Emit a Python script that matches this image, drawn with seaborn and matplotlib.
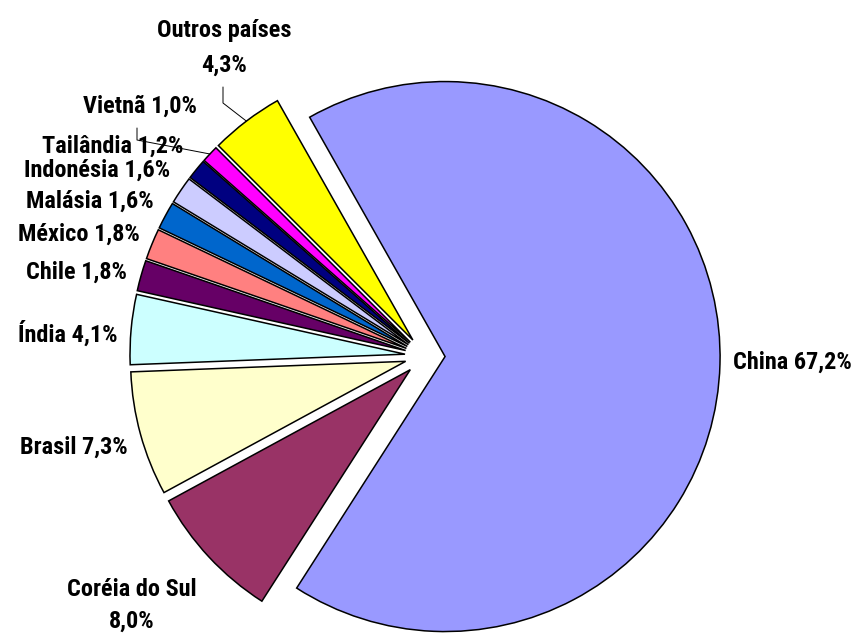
import numpy as np
import seaborn as sns
import matplotlib.pyplot as plt

# Data: share of exports by destination (%)
countries = ["China", "Coréia do Sul", "Brasil", "Índia", "Chile", "México",
             "Malásia", "Indonésia", "Tailândia", "Vietnã", "Outros países"]
shares = [67.2, 8.0, 7.3, 4.1, 1.8, 1.8, 1.6, 1.6, 1.2, 1.0, 4.3]
colors = ["#9999FF", "#993366", "#FFFFCC", "#CCFFFF", "#660066", "#FF8080",
          "#0066CC", "#CCCCFF", "#000080", "#FF00FF", "#FFFF00"]
two_line = ["Coréia do Sul", "Outros países"]

sns.set_style("white")
plt.rcParams["font.family"] = ["Roboto Condensed", "Liberation Sans", "DejaVu Sans"]

# Layout in pixels
W, H = 864, 634
CX, CY, R = 425, 356, 275


def to_data(x, y):
    return (x - CX) / R, (CY - y) / R


# label anchors (pixel x, last-line baseline y, alignment, line spacing)
label_pos = [
    (733, 369, "left", 1.2),
    (132, 628, "center", 1.5),
    (128, 454, "right", 1.2),
    (118, 342, "right", 1.2),
    (127, 279, "right", 1.2),
    (140, 241, "right", 1.2),
    (154, 208, "right", 1.2),
    (170, 177, "right", 1.2),
    (183, 153, "right", 1.2),
    (197, 113, "right", 1.2),
    (224, 72, "center", 1.65),
]
# leader line stubs (pixel x, y top, y bottom) for labels that need them
leaders = {"Vietnã": (137, 128, 140), "Outros países": (223, 87, 103)}

fig = plt.figure(figsize=(W / 100, H / 100), dpi=100)
ax = fig.add_axes([0, 0, 1, 1])

wedges, _ = ax.pie(
    shares,
    colors=sns.color_palette(colors),
    startangle=119.5,
    counterclock=False,
    explode=[0.073] * len(shares),
    wedgeprops=dict(edgecolor="black", linewidth=1.1),
)

ax.set_xlim(-CX / R, (W - CX) / R)
ax.set_ylim(-(H - CY) / R, CY / R)
ax.set_aspect("auto")
ax.axis("off")

# Labels
for name, val, (px, py, ha, ls) in zip(countries, shares, label_pos):
    pct = f"{val:.1f}".replace(".", ",") + "%"
    txt = f"{name}\n{pct}" if name in two_line else f"{name} {pct}"
    x, y = to_data(px, py)
    ax.text(x, y, txt, ha=ha, va="baseline", fontsize=17.5,
            fontweight="bold", linespacing=ls, color="black")

# Leader lines
for name, (lx, y0, y1) in leaders.items():
    w = wedges[countries.index(name)]
    mid = np.deg2rad((w.theta1 + w.theta2) / 2)
    ex = w.center[0] + w.r * np.cos(mid)
    ey = w.center[1] + w.r * np.sin(mid)
    xa, ya = to_data(lx, y0)
    xb, yb = to_data(lx, y1)
    ax.plot([xa, xb, ex], [ya, yb, ey], color="black", linewidth=0.7)

plt.savefig("out.png", dpi=100)
